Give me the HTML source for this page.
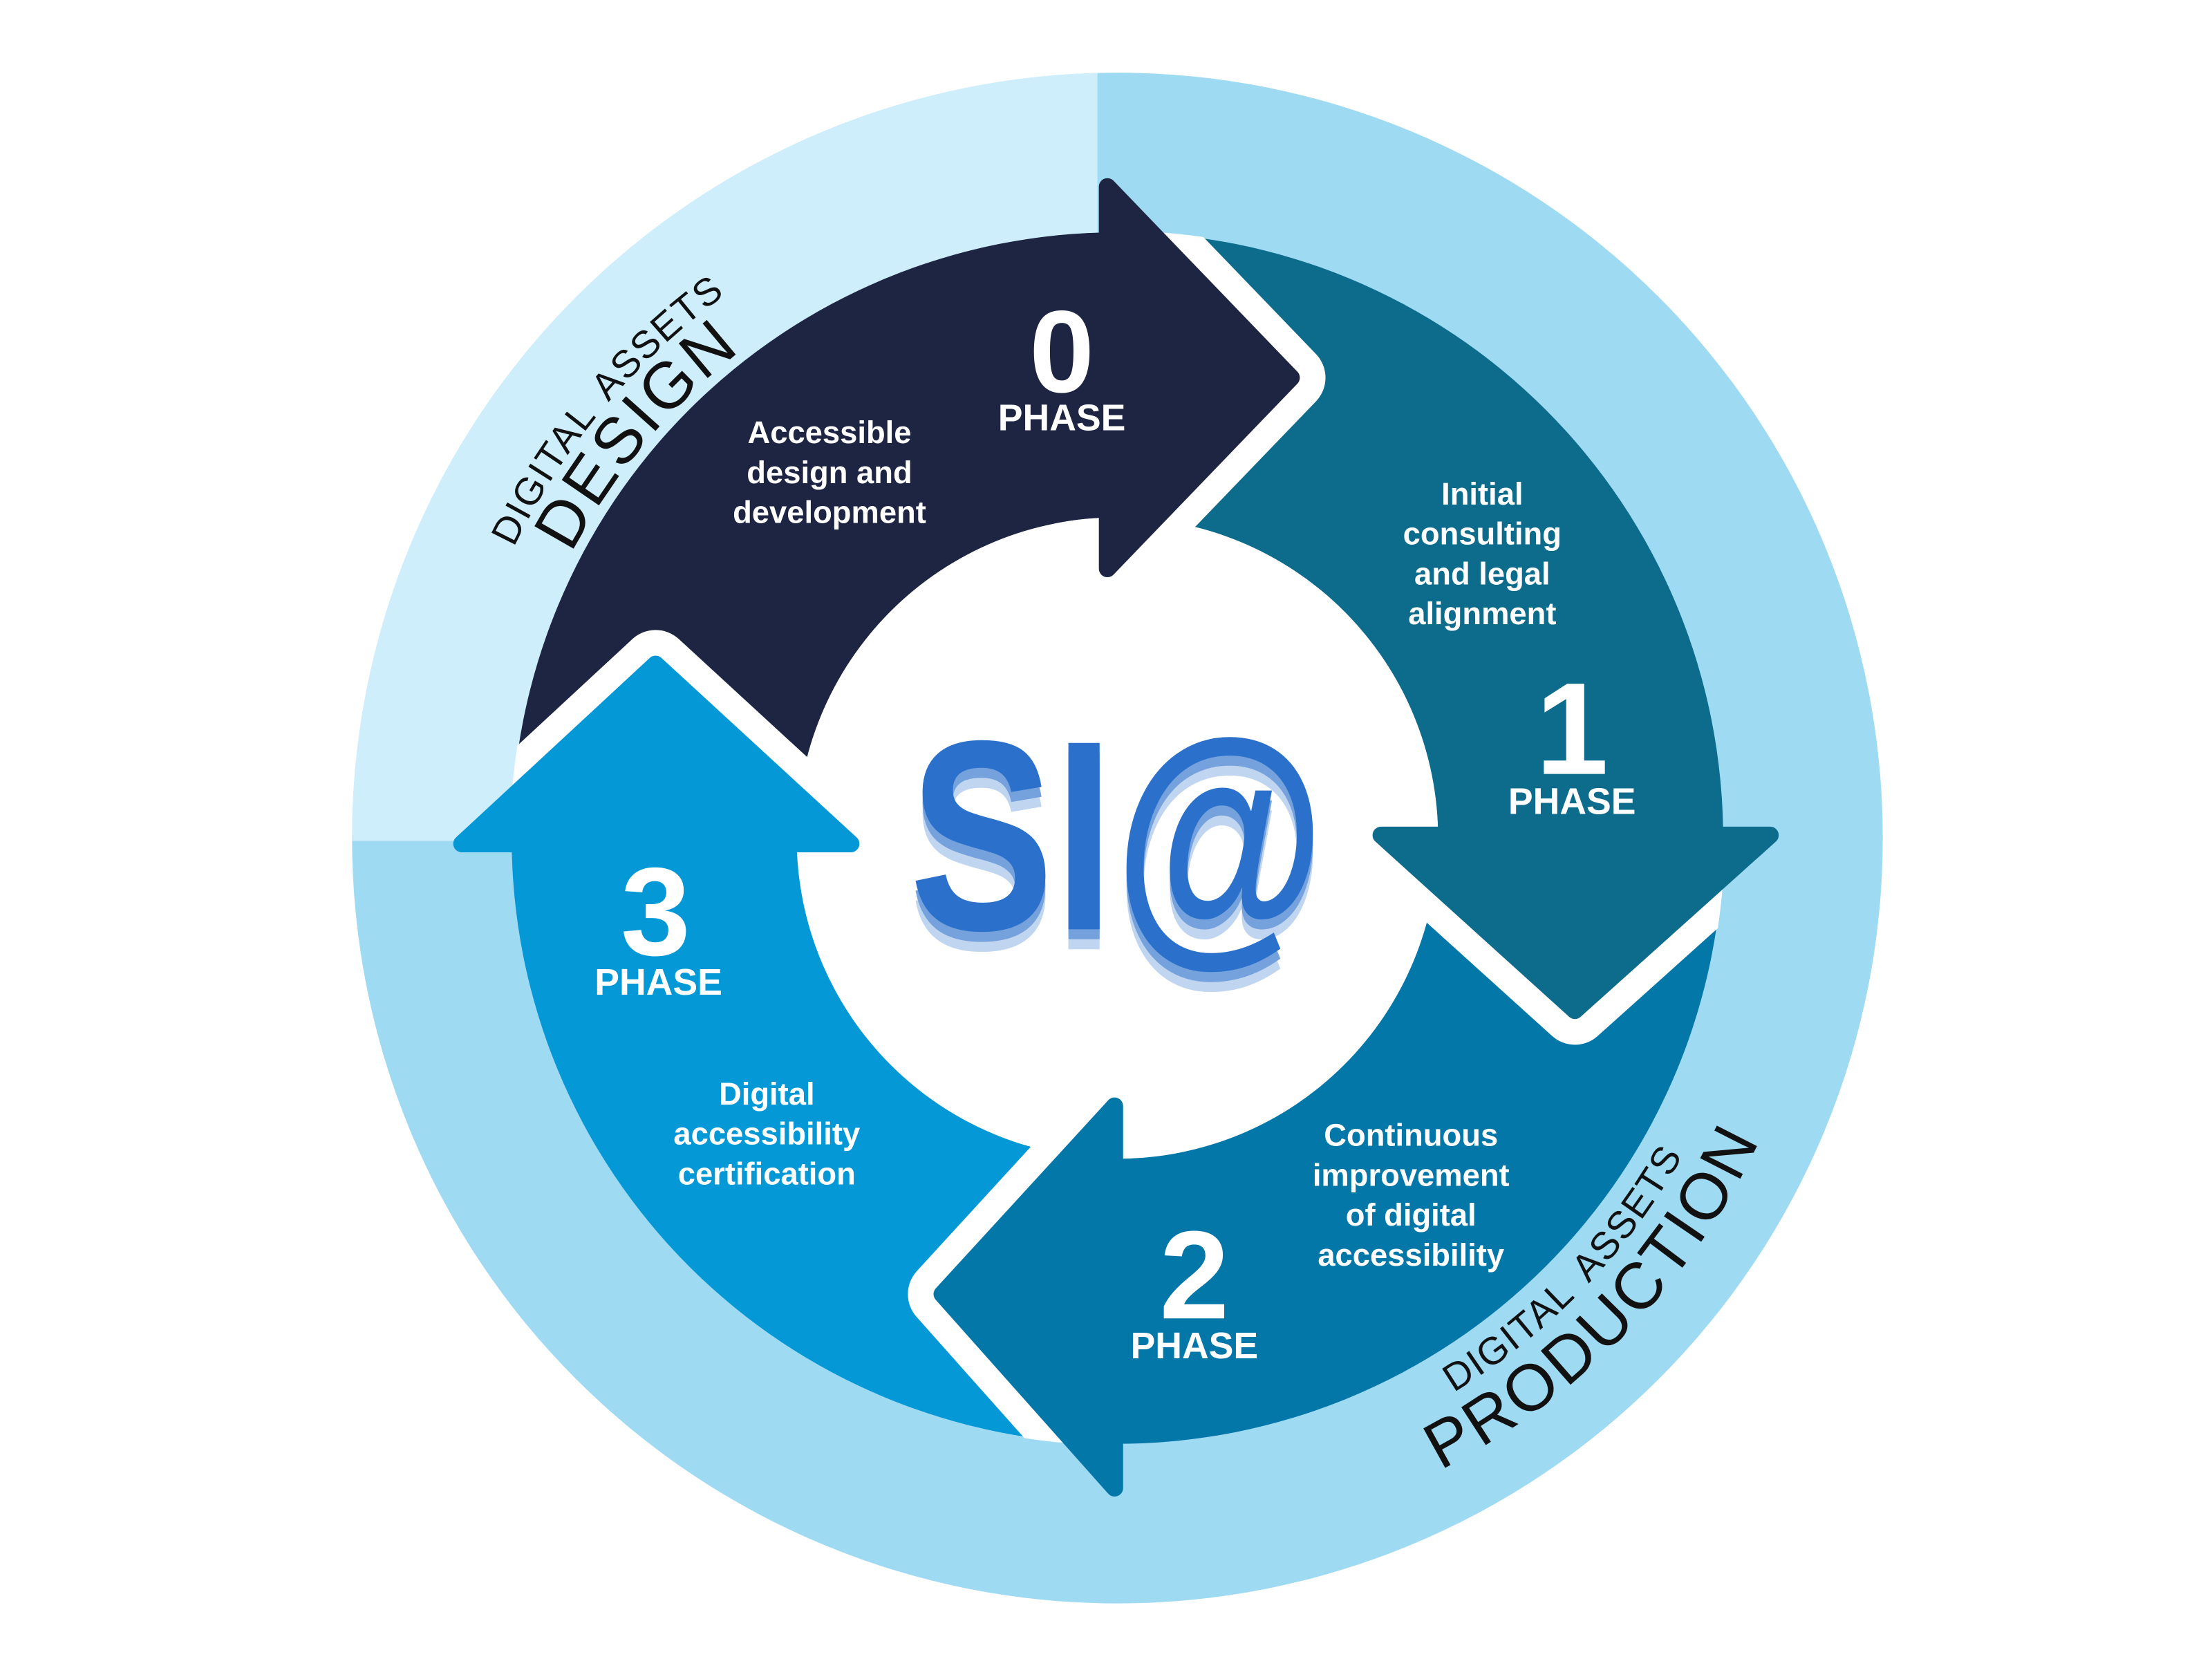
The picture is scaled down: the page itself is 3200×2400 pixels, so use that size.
<!DOCTYPE html>
<html><head><meta charset="utf-8"><style>
html,body{margin:0;padding:0;background:#fff;}
svg{display:block;}
text{font-family:"Liberation Sans",sans-serif;}
</style></head><body>
<svg width="3200" height="2400" viewBox="0 0 1552 1164" xmlns="http://www.w3.org/2000/svg">
<defs>
<clipPath id="oc"><circle cx="784" cy="588" r="537"/></clipPath>
<clipPath id="ic"><circle cx="784" cy="588" r="426"/></clipPath>
<path id="a1" d="M377,823 A470,470 0 0 1 944.7,146.3"/>
<path id="a2" d="M409.9,804 A432,432 0 0 1 931.7,182"/>
<path id="a3" d="M799.9,1042.7 A455,455 0 0 0 1239,588"/>
<path id="a4" d="M801.4,1085.7 A498,498 0 0 0 1282,588"/>
</defs>
<rect width="1552" height="1164" fill="#fff"/>
<circle cx="784" cy="588" r="537" fill="#9fdaf3"/>
<path d="M770,590 L770,0 L0,0 L0,590 Z" fill="#cfeefc" clip-path="url(#oc)"/>

<!-- bodies -->
<path d="M359,588 A425,425 0 0 1 784,163 L784,363 A225,225 0 0 0 559,588 Z" fill="#1e2542"/>
<path d="M784,163 A425,425 0 0 1 1209,588 L1009,588 A225,225 0 0 0 784,363 Z" fill="#0d6b8b"/>
<path d="M1209,588 A425,425 0 0 1 784,1013 L784,813 A225,225 0 0 0 1009,588 Z" fill="#0477a9"/>
<path d="M784,1013 A425,425 0 0 1 359,588 L559,588 A225,225 0 0 0 784,813 Z" fill="#0499d6"/>
<circle cx="784" cy="588" r="225" fill="#fff"/>

<!-- heads -->
<g clip-path="url(#ic)" fill="none" stroke="#fff" stroke-width="48" stroke-linejoin="round" stroke-linecap="round">
<polyline points="777,131 906,265 777,399"/>
<polyline points="969,586 1105,709 1242,586"/>
<polyline points="782,776 661,908 782,1044"/>
<polyline points="324,592 460,466 597,592"/>
</g>
<polygon points="777,131 906,265 777,399" fill="#1e2542" stroke="#1e2542" stroke-width="12" stroke-linejoin="round"/>
<polygon points="969,586 1105,709 1242,586" fill="#0d6b8b" stroke="#0d6b8b" stroke-width="12" stroke-linejoin="round"/>
<polygon points="782,776 661,908 782,1044" fill="#0477a9" stroke="#0477a9" stroke-width="12" stroke-linejoin="round"/>
<polygon points="324,592 460,466 597,592" fill="#0499d6" stroke="#0499d6" stroke-width="12" stroke-linejoin="round"/>

<!-- arc labels -->
<text font-size="27" fill="#111" letter-spacing="1" word-spacing="6"><textPath href="#a1" startOffset="50%" text-anchor="middle">DIGITAL ASSETS</textPath></text>
<text font-size="46" fill="#111" letter-spacing="2"><textPath href="#a2" startOffset="50%" text-anchor="middle">DESIGN</textPath></text>
<text font-size="27" fill="#111" letter-spacing="1" word-spacing="6"><textPath href="#a3" startOffset="50%" text-anchor="middle">DIGITAL ASSETS</textPath></text>
<text font-size="46" fill="#111" letter-spacing="2"><textPath href="#a4" startOffset="50%" text-anchor="middle">PRODUCTION</textPath></text>

<!-- phase texts -->
<g fill="#fff" font-weight="bold" text-anchor="middle">
<text x="745" y="275" font-size="82">0</text>
<text x="745" y="302" font-size="26">PHASE</text>
<text x="582" y="311" font-size="22">Accessible</text>
<text x="582" y="339" font-size="22">design and</text>
<text x="582" y="367" font-size="22">development</text>

<text x="1103" y="543" font-size="92">1</text>
<text x="1103" y="571" font-size="26">PHASE</text>
<text x="1040" y="354" font-size="22">Initial</text>
<text x="1040" y="382" font-size="22">consulting</text>
<text x="1040" y="410" font-size="22">and legal</text>
<text x="1040" y="438" font-size="22">alignment</text>

<text x="838" y="925" font-size="88">2</text>
<text x="838" y="953" font-size="26">PHASE</text>
<text x="990" y="804" font-size="22">Continuous</text>
<text x="990" y="832" font-size="22">improvement</text>
<text x="990" y="860" font-size="22">of digital</text>
<text x="990" y="888" font-size="22">accessibility</text>

<text x="460" y="670" font-size="88">3</text>
<text x="462" y="698" font-size="26">PHASE</text>
<text x="538" y="775" font-size="22">Digital</text>
<text x="538" y="803" font-size="22">accessibility</text>
<text x="538" y="831" font-size="22">certification</text>
</g>

<!-- logo -->
<g font-weight="bold" font-size="190">
<text x="638" y="666" fill="#c0d5ef" textLength="292" lengthAdjust="spacingAndGlyphs">SI@</text>
<text x="638" y="659" fill="#75a2dc" textLength="292" lengthAdjust="spacingAndGlyphs">SI@</text>
<text x="638" y="652" fill="#2b71cb" textLength="292" lengthAdjust="spacingAndGlyphs">SI@</text>
</g>
</svg>
</body></html>
